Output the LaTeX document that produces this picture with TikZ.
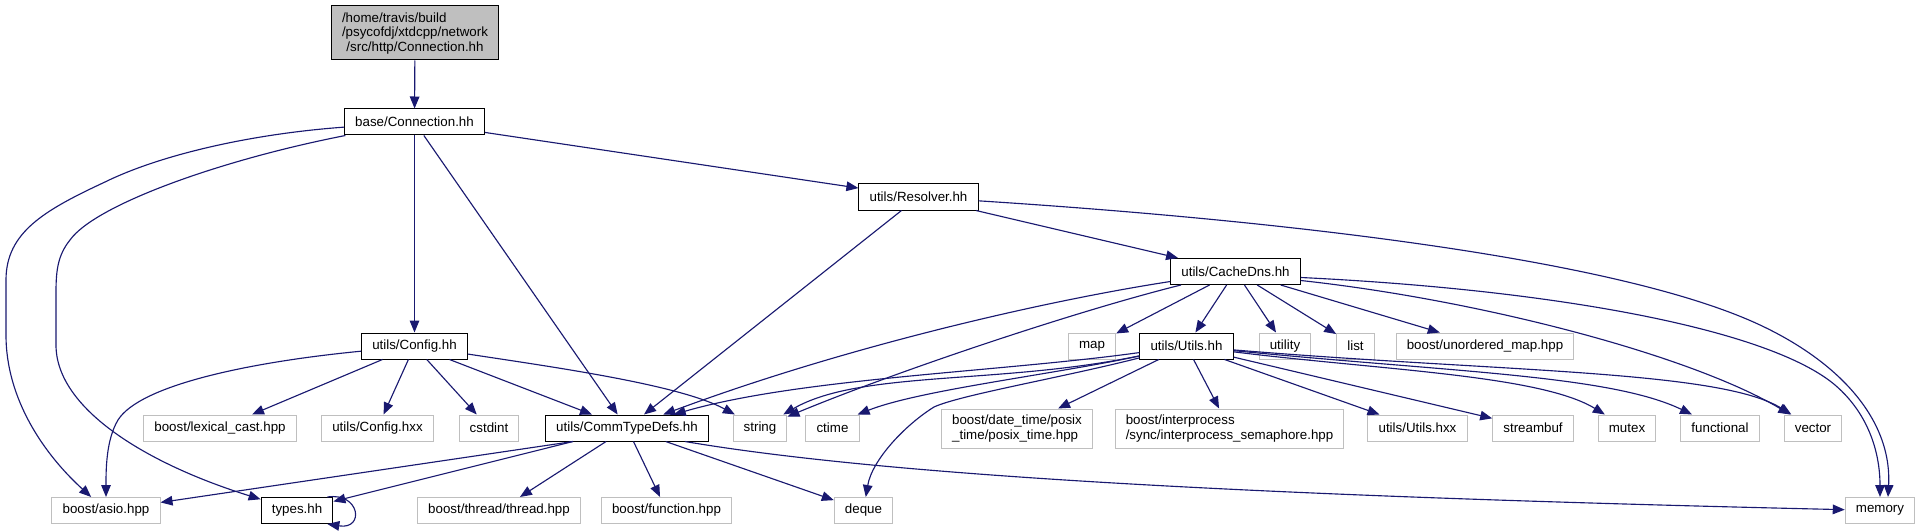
\documentclass[tikz,border=0pt]{standalone}
\usepackage{fontspec}
\setmainfont{Liberation Sans}
\usetikzlibrary{arrows.meta,calc}
\definecolor{edgecol}{HTML}{191970}
\definecolor{lgray}{HTML}{BFBFBF}
\tikzset{
 box/.style={draw=black, line width=0.75pt, font=\fontsize{10}{11}\selectfont, inner xsep=8pt, inner ysep=0pt, minimum height=19.5pt, text=black},
 extbox/.style={box, draw=lgray},
 topbox/.style={box, fill=lgray, minimum height=40.5pt, align=center},
 twoline/.style={extbox, minimum height=29.25pt, align=left},
 dep/.style={draw=edgecol, line width=0.85pt, -{Triangle[length=9pt,width=7.2pt]}},
}
\begin{document}
\begin{tikzpicture}[x=0.75pt,y=-0.75pt]
\useasboundingbox (0,0) rectangle (1920,531);
% nodes
\node[topbox] (top) at (415,33) {\begin{tabular}[b]{@{}l@{}}/home/travis/build\\/psycofdj/xtdcpp/network\end{tabular}\\/src/http/Connection.hh};
\node[box] (base) at (414.5,122) {base/Connection.hh};
\node[box] (resolver) at (918.5,197) {utils/Resolver.hh};
\node[box] (cachedns) at (1235.5,271.5) {utils/CacheDns.hh};
\node[box] (config) at (414.5,346) {utils/Config.hh};
\node[extbox] (map) at (1092,346) {map};
\node[box] (utilsh) at (1186.5,346) {utils/Utils.hh};
\node[extbox] (utility) at (1285,346) {utility};
\node[extbox] (list) at (1355.5,346) {list};
\node[extbox] (umap) at (1485,346) {boost/unordered\_map.hpp};
\node[extbox] (lexical) at (220,428) {boost/lexical\_cast.hpp};
\node[extbox] (confighxx) at (377.5,428) {utils/Config.hxx};
\node[extbox] (cstdint) at (489,428) {cstdint};
\node[box] (commtd) at (627,428) {utils/CommTypeDefs.hh};
\node[extbox] (string) at (760,428) {string};
\node[extbox] (ctime) at (832.5,428) {ctime};
\node[twoline] (posix) at (1017,428.5) {boost/date\_time/posix\\\_time/posix\_time.hpp};
\node[twoline] (interproc) at (1229.5,428.5) {boost/interprocess\\/sync/interprocess\_semaphore.hpp};
\node[extbox] (utilshxx) at (1417.5,428) {utils/Utils.hxx};
\node[extbox] (streambuf) at (1533,428) {streambuf};
\node[extbox] (mutex) at (1627,428) {mutex};
\node[extbox] (functional) at (1720,428) {functional};
\node[extbox] (vector) at (1813,428) {vector};
\node[extbox] (asio) at (106,510.5) {boost/asio.hpp};
\node[box] (types) at (297,510.5) {types.hh};
\node[extbox] (thread) at (499,510.5) {boost/thread/thread.hpp};
\node[extbox] (function) at (666.5,510.5) {boost/function.hpp};
\node[extbox] (deque) at (863.5,510.5) {deque};
\node[extbox] (memory) at (1880,510.5) {memory};
% edges from top / base
\draw[dep] (top) -- (base);
\draw[dep] (base) .. controls (250,134) and (160,155) .. (105,182)
  .. controls (45,210) and (6,232) .. (6,280) -- (6,335)
  .. controls (6,400) and (45,455) .. (asio);
\draw[dep] (base) .. controls (220,160) and (95,205) .. (70,240)
  .. controls (58,255) and (56,270) .. (56,292) -- (56,345)
  .. controls (56,410) and (150,465) .. (types);
\draw[dep] (base) -- (config);
\draw[dep] (base) -- (commtd);
\draw[dep] (base) -- (resolver);
% resolver
\draw[dep] (resolver) -- (commtd);
\draw[dep] (resolver) -- (cachedns);
\draw[dep] (resolver) .. controls (1200,215) and (1600,250) .. (1760,325)
  .. controls (1840,362.5) and (1892,420) .. ($(memory.north)+(8,0)$);
% cachedns
\draw[dep] (cachedns) -- (map);
\draw[dep] (cachedns) -- (utilsh);
\draw[dep] (cachedns) -- (utility);
\draw[dep] (cachedns) -- (list);
\draw[dep] (cachedns) -- (umap);
\draw[dep] (cachedns) .. controls (1050,300) and (850,345) .. (commtd);
\draw[dep] (cachedns) .. controls (1080,310) and (900,370) .. (string);
\draw[dep] ($(cachedns.east)+(0,9)$) .. controls (1480,300) and (1690,355) .. (vector);
\draw[dep] ($(cachedns.east)+(0,6)$) .. controls (1560,290) and (1770,330) .. (1835,385)
  .. controls (1870,415) and (1880,455) .. (memory.north);
% config
\draw[dep] (config) .. controls (250,362) and (140,385) .. (118,420)
  .. controls (106,440) and (106,470) .. (asio);
\draw[dep] (config) -- (lexical);
\draw[dep] (config) -- (confighxx);
\draw[dep] (config) -- (cstdint);
\draw[dep] (config) -- (commtd);
\draw[dep] (config) .. controls (560,368) and (680,385) .. (string);
% utils.hh
\draw[dep] (utilsh) .. controls (1000,372) and (800,378) .. (commtd);
\draw[dep] (utilsh) .. controls (1000,385) and (860,370) .. (string);
\draw[dep] (utilsh) .. controls (1050,375) and (920,390) .. ($(ctime.north east)+(-2,0)$);
\draw[dep] (utilsh) .. controls (1060,378) and (960,395) .. (934,407)
  .. controls (905,425) and (872,460) .. (deque);
\draw[dep] (utilsh) -- (posix);
\draw[dep] (utilsh) -- (interproc);
\draw[dep] (utilsh) -- (utilshxx);
\draw[dep] (utilsh) -- (streambuf);
\draw[dep] (utilsh) .. controls (1380,370) and (1540,375) .. (mutex);
\draw[dep] (utilsh) .. controls (1450,372) and (1610,375) .. (functional);
\draw[dep] (utilsh) .. controls (1500,372) and (1720,370) .. (vector);
% commtypedefs
\draw[dep] ($(commtd.south)+(-54,0)$) -- (asio);
\draw[dep] (commtd) -- (types);
\draw[dep] (commtd) -- (thread);
\draw[dep] (commtd) -- (function);
\draw[dep] (commtd) -- (deque);
\draw[dep] ($(commtd.south east)+(-24,0)$) .. controls (900,478) and (1300,497) .. (memory);
% self loop
\draw[dep] ($(types.north east)+(-6,0)$) .. controls (360,492) and (365,530) .. ($(types.south east)+(-6,0)$);
\end{tikzpicture}
\end{document}
